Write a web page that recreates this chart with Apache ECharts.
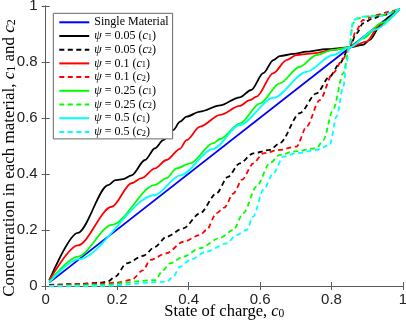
<!DOCTYPE html>
<html>
<head>
<meta charset="utf-8">
<script src="https://cdn.jsdelivr.net/npm/echarts@6/dist/echarts.min.js"></script>
<style>
  html, body { margin: 0; padding: 0; background: #fff; }
  #main { width: 406px; height: 325px; }
</style>
</head>
<body>
<div id="main"></div>
<script>
// x = state of charge c0, y = concentration
const single = [[0.01, 0.012], [0.99, 0.99]]
const c1_005 = [[0.01,0.02],[0.09,0.19],[0.175,0.36],[0.195,0.378],[0.217,0.382],[0.24,0.395],[0.278,0.45],[0.306,0.492],[0.329,0.521],[0.357,0.557],[0.376,0.587],[0.394,0.605],[0.432,0.623],[0.488,0.645],[0.543,0.674],[0.575,0.7],[0.609,0.76],[0.637,0.807],[0.655,0.821],[0.693,0.829],[0.73,0.837],[0.786,0.846],[0.85,0.852],[0.888,0.861],[0.907,0.879],[0.935,0.926],[0.963,0.962],[0.99,0.99]]
const c2_005 = [[0.01,0.004],[0.09,0.007],[0.157,0.012],[0.175,0.017],[0.194,0.033],[0.227,0.081],[0.273,0.108],[0.306,0.14],[0.338,0.176],[0.385,0.206],[0.432,0.26],[0.478,0.331],[0.51,0.39],[0.543,0.438],[0.581,0.474],[0.627,0.486],[0.655,0.51],[0.711,0.617],[0.758,0.688],[0.795,0.748],[0.823,0.795],[0.85,0.852],[0.87,0.902],[0.888,0.938],[0.916,0.956],[0.944,0.968],[0.99,0.99]]
const c1_01 = [[0.01,0.02],[0.09,0.145],[0.185,0.283],[0.24,0.367],[0.268,0.385],[0.306,0.42],[0.338,0.45],[0.376,0.49],[0.394,0.521],[0.432,0.569],[0.488,0.611],[0.543,0.643],[0.571,0.664],[0.59,0.676],[0.637,0.76],[0.674,0.807],[0.702,0.825],[0.749,0.831],[0.804,0.843],[0.85,0.852],[0.898,0.873],[0.935,0.932],[0.99,0.99]]
const c2_01 = [[0.01,0.002],[0.152,0.008],[0.2,0.012],[0.24,0.022],[0.273,0.057],[0.292,0.093],[0.338,0.117],[0.385,0.158],[0.432,0.182],[0.45,0.2],[0.478,0.26],[0.5,0.28],[0.525,0.33],[0.55,0.38],[0.581,0.438],[0.609,0.474],[0.655,0.486],[0.702,0.498],[0.73,0.569],[0.767,0.664],[0.804,0.76],[0.833,0.813],[0.85,0.855],[0.87,0.914],[0.888,0.95],[0.926,0.968],[0.963,0.98],[0.99,0.99]]
const c1_025 = [[0.01,0.015],[0.09,0.105],[0.185,0.218],[0.306,0.361],[0.338,0.385],[0.366,0.42],[0.404,0.438],[0.469,0.51],[0.488,0.525],[0.543,0.58],[0.6,0.652],[0.655,0.724],[0.711,0.783],[0.758,0.825],[0.804,0.843],[0.85,0.852],[0.888,0.884],[0.94,0.94],[0.99,0.99]]
const c2_025 = [[0.01,0.0],[0.152,0.004],[0.306,0.021],[0.329,0.057],[0.348,0.081],[0.385,0.105],[0.432,0.135],[0.488,0.172],[0.525,0.2],[0.553,0.26],[0.59,0.355],[0.627,0.438],[0.655,0.468],[0.693,0.48],[0.758,0.492],[0.777,0.521],[0.804,0.629],[0.833,0.76],[0.85,0.855],[0.86,0.938],[0.87,0.956],[0.907,0.964],[0.944,0.968],[0.99,0.99]]
const c1_05 = [[0.01,0.012],[0.09,0.095],[0.306,0.325],[0.376,0.395],[0.469,0.49],[0.543,0.575],[0.637,0.672],[0.73,0.765],[0.804,0.825],[0.85,0.852],[0.92,0.915],[0.99,0.99]]
const c2_05 = [[0.01,0.0],[0.152,0.0],[0.338,0.015],[0.357,0.033],[0.376,0.069],[0.404,0.093],[0.45,0.123],[0.506,0.152],[0.534,0.182],[0.562,0.2],[0.581,0.248],[0.609,0.343],[0.637,0.402],[0.665,0.462],[0.702,0.474],[0.758,0.486],[0.795,0.504],[0.814,0.605],[0.833,0.712],[0.842,0.795],[0.85,0.855],[0.856,0.914],[0.86,0.95],[0.888,0.962],[0.935,0.964],[0.99,0.99]]

const names = ['Single Material', 'ψ = 0.05 (c1)', 'ψ = 0.05 (c2)', 'ψ = 0.1 (c1)', 'ψ = 0.1 (c2)',
               'ψ = 0.25 (c1)', 'ψ = 0.25 (c2)', 'ψ = 0.5 (c1)', 'ψ = 0.5 (c2)']
const colors = ['#0000ff', '#000000', '#000000', '#ff0000', '#ff0000', '#00ff00', '#00ff00', '#00ffff', '#00ffff']
const dashed = [false, false, true, false, true, false, true, false, true]
const datas = [single, c1_005, c2_005, c1_01, c2_01, c1_025, c2_025, c1_05, c2_05]

const serif = 'Liberation Serif'
const sans = 'Liberation Sans'
const axisColor = '#5a5a5a'

// rich text pieces for italic letters + subscripts
const rich = (size, lh) => ({
    n: { fontFamily: serif, fontSize: size, lineHeight: lh, color: '#000' },
    i: { fontFamily: serif, fontSize: size, fontStyle: 'italic', lineHeight: lh, color: '#000' },
    s: { fontFamily: serif, fontSize: size * 0.7, lineHeight: size * 0.55, verticalAlign: 'bottom', color: '#000' }
})

let legendLabel = name => {
    if (name === 'Single Material') return '{n|Single Material}'
    let m = name.match(/ψ = ([\d.]+) \(c(\d)\)/)
    return `{i|ψ}{n| = ${m[1]} (}{i|c}{s|${m[2]}}{n|)}`
}

const chart = echarts.init(document.getElementById('main'), null, { renderer: 'canvas' })

const series = names.map((name, k) => ({
    name,
    type: 'line',
    data: datas[k],
    symbol: 'none',
    smooth: 0.3,
    smoothMonotone: 'x',
    color: colors[k],
    lineStyle: { width: 1.8, color: colors[k], type: dashed[k] ? [5, 3.5] : 'solid' },
    z: 2 + k
}))

const tickAxis = (pos) => ({
    type: 'value', min: 0, max: 1, interval: 0.2, position: pos,
    axisLine: { show: true, lineStyle: { color: axisColor, width: 1 } },
    axisTick: { show: true, inside: true, length: 4, lineStyle: { color: axisColor } },
    axisLabel: { show: false },
    splitLine: { show: false }
})

chart.setOption({
    animation: false,
    backgroundColor: '#fff',
    grid: { left: 45.7, right: 3, top: 6, bottom: 39, containLabel: false, outerBoundsMode: 'none' },
    legend: {
        data: names,
        orient: 'vertical',
        left: 53.3,
        top: 13.3,
        padding: [3, 4, 1, 5],
        itemGap: 1.7,
        itemWidth: 30,
        itemHeight: 11,
        itemStyle: { opacity: 0 },
        backgroundColor: '#fff',
        borderColor: '#666',
        borderWidth: 1,
        formatter: legendLabel,
        textStyle: { fontFamily: serif, fontSize: 12, lineHeight: 11, color: '#000', rich: rich(12, 11) }
    },
    xAxis: [
        Object.assign(tickAxis('bottom'), {
            name: '{n|State of charge, }{i|c}{s|0}',
            nameLocation: 'middle',
            nameGap: 18,
            nameMoveOverlap: false,
            nameTextStyle: { rich: rich(16.5, 16) },
            axisLabel: { show: true, fontFamily: sans, fontSize: 15, color: '#222', margin: 6 }
        }),
        tickAxis('top')
    ],
    yAxis: [
        Object.assign(tickAxis('left'), {
            name: '{n|Concentration in each material, }{i|c}{s|1}{n| and }{i|c}{s|2}',
            nameLocation: 'middle',
            nameGap: 28,
            nameMoveOverlap: false,
            nameRotate: 90,
            nameTextStyle: { rich: rich(17, 16), padding: [0, 24, 0, 0] },
            axisLabel: { show: true, fontFamily: sans, fontSize: 15, color: '#222', margin: 8 }
        }),
        tickAxis('right')
    ],
    series
})
</script>
</body>
</html>
